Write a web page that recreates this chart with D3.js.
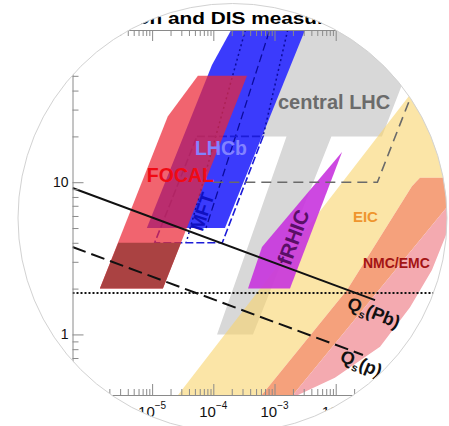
<!DOCTYPE html>
<html lang="en">
<head>
<meta charset="UTF-8" />
<title>Kinematic coverage</title>
<script src="https://cdn.jsdelivr.net/npm/d3@7"></script>
<style>
  body { margin: 0; background: #fff; }
  svg { display: block; font-family: "Liberation Sans", Arial, sans-serif; }
</style>
</head>
<body>
<svg id="chart" width="449" height="426"></svg>
<script>
// region outlines as [x, Q (GeV)] pairs
var centralLHC = [[2.6e-3,120],[5.4e-4,20],[1.57e-3,20],[1.15e-4,1],[4.45e-4,1],[8.5e-3,20],[0.057,20],[0.32,120]];
var eic = [[2.65e-5,0.4],[1.43,116],[3.3,116],[3.3,10.7],[0.238,10.7],[0.176,9.4],[0.0153,1.96],[6.2e-4,0.4]];
var nmcEmc = [[6.2e-4,0.4],[0.0153,1.96],[0.176,9.4],[0.238,10.7],[1.62,10.7],[2.0e-3,0.4]];
var nmcEmcLow = [[2.0e-3,0.4],[1.62,10.7],[1.89,10.7],[0.684,4.85],[0.374,2.65],[0.164,1.51],[0.053,0.83],[9.7e-3,0.52],[2.42e-3,0.4]];
var fRHIC = [[0.0127,15.8],[6.24e-4,3.75],[3.69e-4,2],[1.79e-3,2]];
var lhcb = [[2.4e-4,116],[9.5e-5,59],[8.2e-6,5],[1.55e-4,5],[3.66e-3,116]];
var mft = [[5.4e-5,20],[6.5e-4,20],[1.4e-4,4],[1.1e-5,4]];
var lhcbDotted1 = [[3.7e-4,116],[3.6e-5,4]];
var lhcbDashed = [[9.4e-4,116],[7.6e-5,5]];
var lhcbDotted2 = [[1.79e-3,116],[6.5e-4,20]];
var focal = [[5.6e-5,50],[3.55e-4,50],[1.5e-5,2],[1.4e-6,2],[1.8e-5,27]];
var focalLow = [[2.8e-6,4],[2.97e-5,4],[1.5e-5,2],[1.4e-6,2]];

var lheLine = [[1e-4,10],[0.048,10],[0.45,100]];
var qsPb = [[5e-7,9.16],[0.0439,1.68]];
var qsP = [[5e-7,3.75],[0.0279,0.733]];
var q0Line = [[5e-7,1.87],[1,1.87]];

var xMajor = [1e-6,1e-5,1e-4,1e-3,1e-2,1e-1,1];
var xLabels = ["-6","-5","-4","-3","-2","-1","0"];
var yMajor = [1,10,100];
var yLabels = ["1","10",""];

var svg = d3.select("#chart");
var x = d3.scaleLog().domain([5e-7, 1]).range([72.5, 458.1]);
var y = d3.scaleLog().domain([0.4, 100]).range([395, 30]);

var line = d3.line().x(function (d) { return x(d[0]); }).y(function (d) { return y(d[1]); });

// round window the figure is seen through
var lens = { cx: 232.5, cy: 218, r: 214.5 };

var defs = svg.append("defs");
defs.append("clipPath").attr("id", "lens")
  .append("circle").attr("cx", lens.cx).attr("cy", lens.cy).attr("r", lens.r);
defs.append("clipPath").attr("id", "plotArea")
  .append("rect").attr("x", x.range()[0]).attr("y", y.range()[1])
  .attr("width", x.range()[1] - x.range()[0]).attr("height", y.range()[0] - y.range()[1]);

var root = svg.append("g").attr("clip-path", "url(#lens)");
root.append("rect").attr("width", 449).attr("height", 426).attr("fill", "#fff");

var plot = root.append("g").attr("clip-path", "url(#plotArea)");

function area(pts, fill, op) {
  plot.append("path").attr("d", line(pts) + "Z").attr("fill", fill).attr("fill-opacity", op || 1);
}
function curve(pts, stroke, width, dash) {
  plot.append("path").attr("d", line(pts)).attr("fill", "none")
    .attr("stroke", stroke).attr("stroke-width", width).attr("stroke-dasharray", dash || null);
}

area(centralLHC, "#d8d8d8");
area(eic, "#f8d46c", 0.6);
area(nmcEmc, "#f5a17c");
area(nmcEmcLow, "#f4aab0");
area(fRHIC, "#c834de", 0.9);
area(lhcb, "#3b3bfc");
curve(lhcbDotted1, "#0c0c9c", 1.5, "2,3");
curve(lhcbDashed, "#0c0c9c", 1.3, "8,4");
curve(lhcbDotted2, "#0c0c9c", 1.5, "2,3");
plot.append("path").attr("d", line(mft) + "Z").attr("fill", "none")
  .attr("stroke", "#1c1cd8").attr("stroke-width", 1.6).attr("stroke-dasharray", "8,3");
area(focal, "#eb2837", 0.72);
area(focalLow, "#aa4242");

curve(lheLine, "#6a6a6a", 1.6, "10,6");
curve(q0Line, "#111", 2, "2,2");
curve(qsPb, "#111", 2);
curve(qsP, "#111", 2, "14,6");

// axes
var axisColor = "#8a8a8a";
function minorTicks(lo, hi) {
  var out = [];
  for (var e = Math.floor(Math.log10(lo)); e <= Math.ceil(Math.log10(hi)); e++) {
    for (var m = 2; m <= 9; m++) {
      var v = m * Math.pow(10, e);
      if (v >= lo && v <= hi) out.push(v);
    }
  }
  return out;
}
var xMinor = minorTicks(5e-7, 1), yMinor = minorTicks(0.4, 100);

function drawAxis(axisFn, scale, ticks, size, transform) {
  return root.append("g").attr("transform", transform).attr("color", axisColor)
    .call(axisFn(scale).tickValues(ticks).tickSize(size).tickSizeOuter(0).tickFormat(""));
}
drawAxis(d3.axisBottom, x, xMajor, -11, "translate(0,395)");
drawAxis(d3.axisBottom, x, xMinor, -6, "translate(0,395)").select(".domain").remove();
drawAxis(d3.axisTop, x, xMajor, -11, "translate(0,30)");
drawAxis(d3.axisTop, x, xMinor, -6, "translate(0,30)").select(".domain").remove();
var yAx = root.append("g").attr("transform", "translate(72.5,0)").attr("color", axisColor)
  .call(d3.axisLeft(y).tickValues(yMajor).tickSize(-11).tickSizeOuter(0).tickPadding(4)
    .tickFormat(function (d, i) { return yLabels[i]; }));
yAx.selectAll("text").attr("fill", "#111").attr("font-size", 14);
drawAxis(d3.axisLeft, y, yMinor, -6, "translate(72.5,0)").select(".domain").remove();

xMajor.forEach(function (v, i) {
  if (x(v) < 100 || x(v) > 420) return; // outside the round window
  var t = root.append("text").attr("x", x(v)).attr("y", 417).attr("text-anchor", "middle")
    .attr("fill", "#111").attr("font-size", 15);
  t.append("tspan").text("10");
  t.append("tspan").attr("dy", -8).attr("font-size", 10).text(xLabels[i].replace("-", "\u2212"));
});

// region labels
function label(txt, pos, opts) {
  var t = root.append("text")
    .attr("transform", "translate(" + x(pos[0]) + "," + y(pos[1]) + ")" + (opts.rot ? " rotate(" + opts.rot + ")" : ""))
    .attr("font-size", opts.size).attr("font-weight", "bold").attr("fill", opts.fill)
    .attr("text-anchor", opts.anchor || "start");
  if (opts.middle) t.attr("dominant-baseline", "central");
  t.text(txt);
  return t;
}
label("central LHC", [1.14e-3, 30.3], { size: 20, fill: "#6b6b6b" });
label("LHCb", [5.0e-5, 15.1], { size: 19.5, fill: "#8282ff" });
label("FOCAL", [8.2e-6, 10], { size: 19.5, fill: "#f00a14" });
label("MFT", [6.6e-5, 6.4], { size: 19, fill: "#1010c0", rot: -72, anchor: "middle", middle: true });
label("fRHIC", [2.0e-3, 4.36], { size: 20.5, fill: "#5a0f66", rot: -70, anchor: "middle", middle: true });
label("EIC", [0.0191, 5.48], { size: 15, fill: "#ef952e" });
label("NMC/EMC", [0.0279, 2.73], { size: 14, fill: "#a31414" });

function qsLabel(sub, pos) {
  var t = root.append("text")
    .attr("transform", "translate(" + x(pos[0]) + "," + y(pos[1]) + ") rotate(22)")
    .attr("font-weight", "bold").attr("fill", "#111").attr("font-size", 18);
  t.append("tspan").text("Q");
  t.append("tspan").attr("font-size", 11).attr("dy", 4).text("s");
  t.append("tspan").attr("dy", -4).text("(" + sub + ")");
}
qsLabel("Pb", [0.0147, 1.49]);
qsLabel("p", [0.0113, 0.668]);

// title, squeezed vertically like the original; "and" starts at x = 168
var titleText = "Photon and DIS measurements";
var title = root.append("text").attr("font-size", 16).attr("font-weight", "bold").attr("fill", "#000")
  .attr("x", 0).attr("y", 0).text(titleText);
var off = title.node().getStartPositionOfChar(titleText.indexOf("and")).x * 1.3;
title.attr("transform", "translate(" + (168 - off) + ",24) scale(1.3,1)");

svg.append("circle").attr("cx", lens.cx).attr("cy", lens.cy).attr("r", lens.r)
  .attr("fill", "none").attr("stroke", "#d2d2d2").attr("stroke-width", 1);
</script>
</body>
</html>
